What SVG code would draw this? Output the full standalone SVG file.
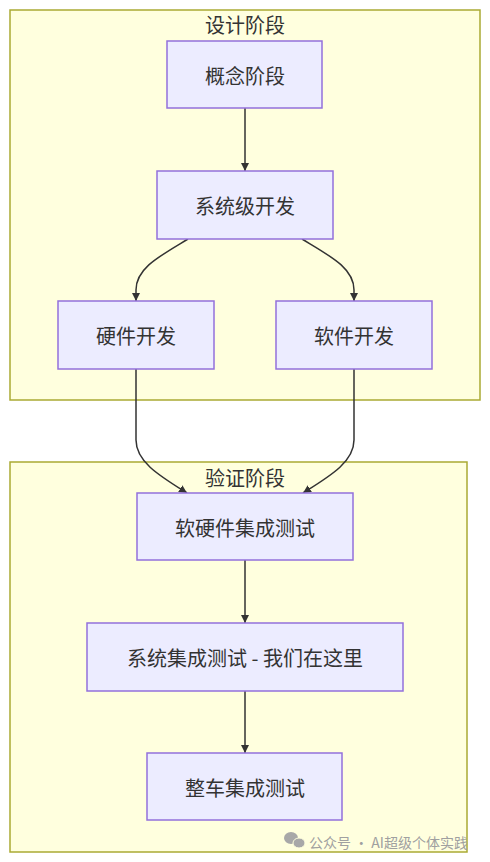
<svg xmlns="http://www.w3.org/2000/svg" width="490" height="862" viewBox="0 0 490 862">
<style>
.cluster{fill:#ffffde;stroke:#aaaa33;stroke-width:1.5}
.node rect{fill:#ececff;stroke:#9370db;stroke-width:1.5}
text{font-family:"Noto Sans CJK SC","Noto Sans",sans-serif;font-size:20px;fill:#333;text-anchor:middle;dominant-baseline:central}
.edge{fill:none;stroke:#333;stroke-width:1.5;marker-end:url(#arrow)}
.wm{font-size:14px;fill:#a0a0a0;text-anchor:start}
</style>
<defs>
<marker id="arrow" viewBox="0 0 10 10" refX="10" refY="5" markerWidth="8" markerHeight="8" markerUnits="userSpaceOnUse" orient="auto">
<path d="M0,0 L10,5 L0,10 z" fill="#333"/>
</marker>
<clipPath id="wmclip"><rect x="0" y="820" width="467" height="42"/></clipPath>
</defs>
<rect width="490" height="862" fill="#ffffff"/>
<g id="cluster-design">
<rect class="cluster" x="10" y="10" width="470" height="390"/>
<text x="245" y="24">设计阶段</text>
</g>
<g id="cluster-verify">
<rect class="cluster" x="10" y="462" width="457" height="390"/>
<text x="245" y="477">验证阶段</text>
</g>
<g id="edges">
<path class="edge" d="M245,108 L245,171"/>
<path class="edge" d="M188,239 C160,256 136,268 136,290 L136,301"/>
<path class="edge" d="M302,239 C330,256 354,268 354,290 L354,301"/>
<path class="edge" d="M136,369 L136,440 C136,462 160,476 187,493"/>
<path class="edge" d="M354,369 L354,440 C354,462 330,476 303,493"/>
<path class="edge" d="M245,560 L245,623"/>
<path class="edge" d="M245,691 L245,753"/>
</g>
<g id="n-concept" class="node"><rect x="167" y="41" width="155" height="67"/><text x="245" y="75">概念阶段</text></g>
<g id="n-system" class="node"><rect x="157" y="171" width="176" height="68"/><text x="245" y="205">系统级开发</text></g>
<g id="n-hw" class="node"><rect x="58" y="301" width="156" height="68"/><text x="136" y="335">硬件开发</text></g>
<g id="n-sw" class="node"><rect x="276" y="301" width="156" height="68"/><text x="354" y="335">软件开发</text></g>
<g id="n-hsi" class="node"><rect x="137" y="493" width="216" height="67"/><text x="245" y="527">软硬件集成测试</text></g>
<g id="n-sit" class="node"><rect x="87" y="623" width="316" height="68"/><text x="245" y="657">系统集成测试 - 我们在这里</text></g>
<g id="n-vit" class="node"><rect x="147" y="753" width="195" height="67"/><text x="245" y="787">整车集成测试</text></g>
<g id="watermark" clip-path="url(#wmclip)">
<ellipse cx="291" cy="838" rx="7" ry="6" fill="#a8a8a8"/>
<ellipse cx="299" cy="843" rx="6" ry="5" fill="#a8a8a8" stroke="#ffffde" stroke-width="1"/>
<text class="wm" x="309" y="842">公众号 · AI超级个体实践</text>
</g>
</svg>
